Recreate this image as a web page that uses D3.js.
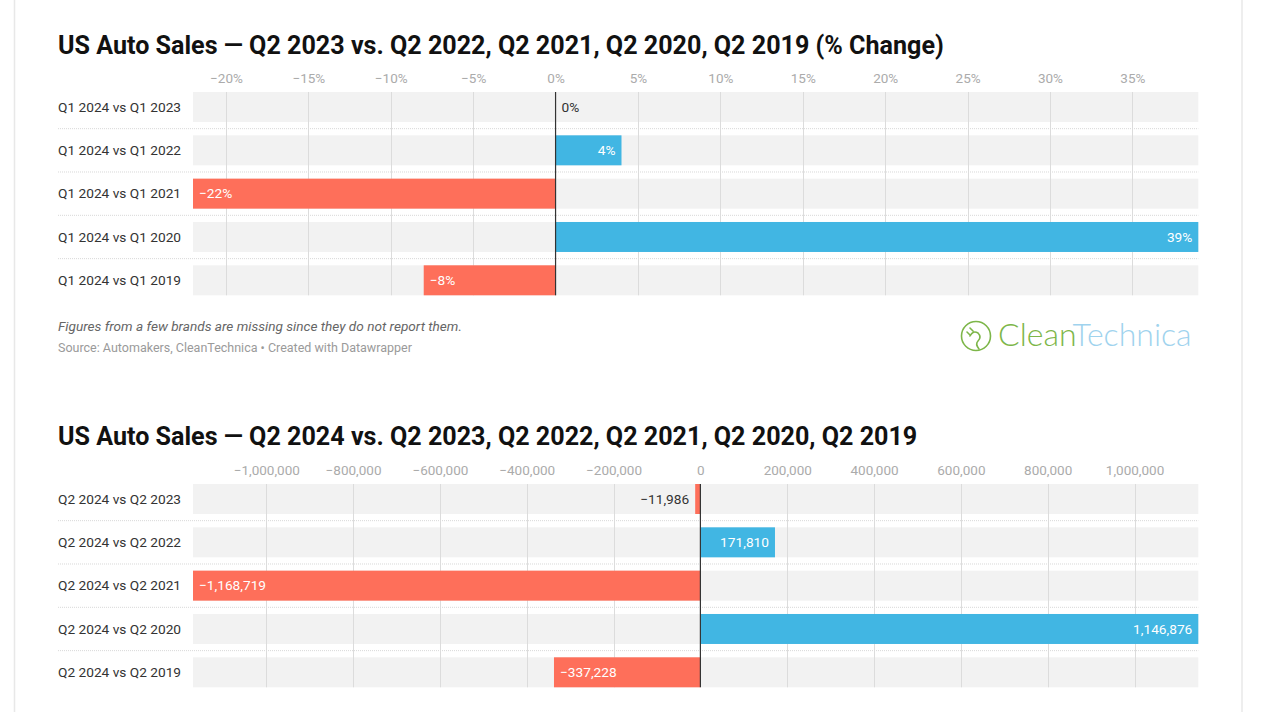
<!DOCTYPE html>
<html>
<head>
<meta charset="utf-8">
<script src="https://cdn.jsdelivr.net/npm/d3@7/dist/d3.min.js"></script>
<style>
  html, body { margin: 0; padding: 0; background: #fff; }
  svg { display: block; font-family: Roboto, "Noto Sans", sans-serif; }
</style>
</head>
<body>
<svg id="chart" width="1280" height="712"></svg>
<script>
// ---- Data ----
const title1 = "US Auto Sales \u2014 Q2 2023 vs. Q2 2022, Q2 2021, Q2 2020, Q2 2019 (% Change)";
const categories1 = ["Q1 2024 vs Q1 2023", "Q1 2024 vs Q1 2022", "Q1 2024 vs Q1 2021", "Q1 2024 vs Q1 2020", "Q1 2024 vs Q1 2019"];
const values1 = [0, 4, -22, 39, -8];
const ticks1 = [-20, -15, -10, -5, 0, 5, 10, 15, 20, 25, 30, 35];

const title2 = "US Auto Sales \u2014 Q2 2024 vs. Q2 2023, Q2 2022, Q2 2021, Q2 2020, Q2 2019";
const categories2 = ["Q2 2024 vs Q2 2023", "Q2 2024 vs Q2 2022", "Q2 2024 vs Q2 2021", "Q2 2024 vs Q2 2020", "Q2 2024 vs Q2 2019"];
const values2 = [-11986, 171810, -1168719, 1146876, -337228];
const ticks2 = [-1000000, -800000, -600000, -400000, -200000, 0, 200000, 400000, 600000, 800000, 1000000];

const note1 = "Figures from a few brands are missing since they do not report them.";
const source1 = "Source: Automakers, CleanTechnica \u2022 Created with Datawrapper";

// ---- Styles ----
const BLUE = "#41b6e3";
const RED = "#fe6f5a";
const ROWBG = "#f2f2f2";
const GRID = "#dcdcdc";

const svg = d3.select("#chart");

// frame lines
svg.append("line").attr("x1", 14.5).attr("x2", 14.5).attr("y1", 0).attr("y2", 712)
  .attr("stroke", "#e8e8e8").attr("stroke-width", 1.5);
svg.append("line").attr("x1", 1242).attr("x2", 1242).attr("y1", 0).attr("y2", 712)
  .attr("stroke", "#e8e8e8").attr("stroke-width", 1.5);

const minus = s => s.replace(/-/g, "\u2212");
const fmtPct = v => minus(d3.format("d")(v) + "%");
const fmtNum = v => minus(d3.format(",")(v));

function drawChart(opt) {
  const g = svg.append("g");
  const x = d3.scaleLinear().domain(d3.extent(opt.values)).range([193, 1198.3]);
  const y = d3.scaleBand().domain(opt.categories)
    .range([opt.rowTop, opt.rowTop + 203.3]).paddingInner(0.3077).paddingOuter(0);
  const bw = y.bandwidth();
  const gap = y.step() - bw;

  g.append("text").attr("x", 58).attr("y", opt.titleY)
    .attr("font-size", 25.1).attr("font-weight", 700).attr("fill", "#111")
    .text(opt.title);

  g.selectAll("rect.bg").data(opt.categories).join("rect")
    .attr("x", x.range()[0]).attr("width", x.range()[1] - x.range()[0])
    .attr("y", d => y(d)).attr("height", bw).attr("fill", ROWBG);

  g.selectAll("line.sep").data(opt.categories.slice(1)).join("line")
    .attr("x1", 58).attr("x2", x.range()[1])
    .attr("y1", d => y(d) - gap / 2).attr("y2", d => y(d) - gap / 2)
    .attr("stroke", "#d8d8d8").attr("stroke-width", 1).attr("stroke-dasharray", "1,1");

  const axis = d3.axisTop(x).tickValues(opt.ticks).tickFormat(opt.tickFmt).tickSize(0).tickPadding(0);
  const ax = g.append("g").attr("transform", `translate(0,${opt.tickY})`).call(axis);
  ax.select(".domain").remove();
  ax.selectAll("text").attr("font-size", 13.5).attr("fill", "#ababab")
    .attr("font-family", "Roboto, sans-serif").attr("dy", "0.35em").attr("y", 0);

  g.selectAll("line.grid").data(opt.ticks.filter(t => t !== 0)).join("line")
    .attr("x1", d => Math.round(x(d)) + 0.5).attr("x2", d => Math.round(x(d)) + 0.5)
    .attr("y1", y.range()[0]).attr("y2", y.range()[1])
    .attr("stroke", GRID).attr("stroke-width", 1);

  g.selectAll("text.cat").data(opt.categories).join("text")
    .attr("x", 58).attr("y", d => y(d) + bw / 2).attr("dy", "0.35em")
    .attr("font-size", 13.7).attr("fill", "#333").text(d => d);

  const data = opt.categories.map((c, i) => ({ c, v: opt.values[i] }));
  g.selectAll("rect.bar").data(data).join("rect")
    .attr("x", d => Math.min(x(0), x(d.v)))
    .attr("width", d => Math.abs(x(d.v) - x(0)))
    .attr("y", d => y(d.c)).attr("height", bw)
    .attr("fill", d => d.v < 0 ? RED : BLUE);

  g.append("line").attr("x1", x(0)).attr("x2", x(0))
    .attr("y1", y.range()[0]).attr("y2", y.range()[1])
    .attr("stroke", "#333").attr("stroke-width", 1.2);

  g.selectAll("text.val").data(data).join("text")
    .attr("font-size", 13.7)
    .attr("y", d => y(d.c) + bw / 2).attr("dy", "0.35em")
    .text(d => opt.valFmt(d.v))
    .each(function (d) {
      const t = d3.select(this);
      const w = this.getComputedTextLength();
      const barW = Math.abs(x(d.v) - x(0));
      const inside = barW > w + 14;
      if (d.v >= 0) {
        if (inside) t.attr("x", x(d.v) - 6).attr("text-anchor", "end").attr("fill", "#fff");
        else t.attr("x", x(d.v) + 6).attr("text-anchor", "start").attr("fill", "#333");
      } else {
        if (inside) t.attr("x", x(d.v) + 6).attr("text-anchor", "start").attr("fill", "#fff");
        else t.attr("x", x(d.v) - 6).attr("text-anchor", "end").attr("fill", "#333");
      }
    });
  return g;
}

drawChart({ title: title1, titleY: 54, categories: categories1, values: values1, ticks: ticks1,
  tickFmt: fmtPct, valFmt: fmtPct, rowTop: 92, tickY: 78 });
drawChart({ title: title2, titleY: 445, categories: categories2, values: values2, ticks: ticks2,
  tickFmt: fmtNum, valFmt: fmtNum, rowTop: 484, tickY: 470 });

svg.append("text").attr("x", 58).attr("y", 331).attr("font-size", 13.6)
  .attr("font-style", "italic").attr("fill", "#666").text(note1);
svg.append("text").attr("x", 58).attr("y", 352).attr("font-size", 12.5)
  .attr("fill", "#9a9a9a").text(source1);

const logo = svg.append("g");
const GREEN = "#7db649";
logo.append("circle").attr("cx", 976).attr("cy", 336).attr("r", 14.5)
  .attr("fill", "none").attr("stroke", GREEN).attr("stroke-width", 1.6);
logo.append("path")
  .attr("d", "M970,328 l3,3 M967,332 l3,3 M970,336 q3,-6 8,-3 q4,4 0,8 q-3,3 1,8")
  .attr("fill", "none").attr("stroke", GREEN).attr("stroke-width", 1.6).attr("stroke-linecap", "round");
const lt = logo.append("text").attr("x", 998).attr("y", 346)
  .attr("font-family", "Lato, sans-serif").attr("font-weight", 300).attr("font-size", 32);
lt.append("tspan").attr("fill", GREEN).text("Clean");
lt.append("tspan").attr("fill", "#9fd3ee").text("Technica");
</script>
</body>
</html>
